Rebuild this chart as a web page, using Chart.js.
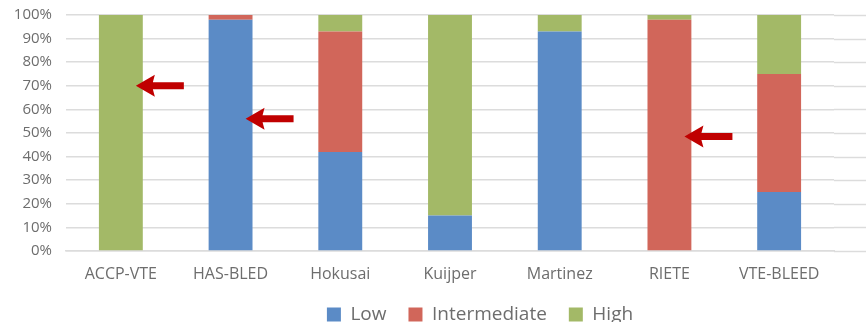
<!DOCTYPE html>
<html>
<head>
<meta charset="utf-8">
<script src="https://cdn.jsdelivr.net/npm/chart.js@4/dist/chart.umd.min.js"></script>
<style>
  html, body { margin: 0; padding: 0; background: #ffffff; }
  #wrap { width: 866px; height: 324px; }
</style>
</head>
<body>
<div id="wrap"><canvas id="risk" width="866" height="324"></canvas></div>
<script>
// Bleeding-risk scores and the share of patients classed in each risk band (%)
const scores = ['ACCP-VTE', 'HAS-BLED', 'Hokusai', 'Kuijper', 'Martinez', 'RIETE', 'VTE-BLEED'];
const lowRisk = [0, 98, 42, 15, 93, 0, 25];
const intermediateRisk = [0, 2, 51, 0, 0, 98, 50];
const highRisk = [100, 0, 7, 85, 7, 2, 25];
const seriesNames = ['Low', 'Intermediate', 'High'];
const yTicks = [0, 10, 20, 30, 40, 50, 60, 70, 80, 90, 100];

// Highlight arrows: score and the percentage level the arrow points at
const arrowScores = ['ACCP-VTE', 'HAS-BLED', 'RIETE'];
const arrowLevels = [70, 56, 48.5];

const GRID = '#dcdcdc';
const TEXT = '#6d6d6d';
const FONT = "'Open Sans', 'Noto Sans', sans-serif";

// Carry the horizontal gridlines on to the right edge of the canvas
const gridExtend = {
  id: 'gridExtend',
  beforeDatasetsDraw(chart) {
    const { ctx, chartArea, scales } = chart;
    ctx.save();
    ctx.strokeStyle = GRID;
    ctx.lineWidth = 1.5;
    yTicks.forEach(v => {
      const y = Math.round(scales.y.getPixelForValue(v)) + 0.5;
      ctx.beginPath();
      ctx.moveTo(chartArea.right, y);
      ctx.lineTo(chart.width, y);
      ctx.stroke();
    });
    ctx.restore();
  }
};

// Nudge the legend up and to the right so it sits under the middle of the plot
const legendNudge = {
  id: 'legendNudge',
  afterLayout(chart) {
    const lg = chart.legend;
    if (!lg) return;
    lg.top -= 2; lg.bottom -= 2;
    lg.left += 63; lg.right += 63;
  }
};

// Red pointer arrows laid on top of the bars
const pointerArrows = {
  id: 'pointerArrows',
  afterDatasetsDraw(chart) {
    const { ctx, scales } = chart;
    ctx.save();
    ctx.fillStyle = '#c00000';
    arrowScores.forEach((name, i) => {
      const tipX = scales.x.getPixelForValue(scores.indexOf(name)) + 15;
      const tipY = scales.y.getPixelForValue(arrowLevels[i]);
      const headLen = 19, headHalf = 11, shaftHalf = 3.5, total = 48;
      ctx.beginPath();
      ctx.moveTo(tipX, tipY);
      ctx.lineTo(tipX + headLen, tipY - headHalf);
      ctx.lineTo(tipX + headLen - 2, tipY - shaftHalf);
      ctx.lineTo(tipX + total, tipY - shaftHalf);
      ctx.lineTo(tipX + total, tipY + shaftHalf);
      ctx.lineTo(tipX + headLen - 2, tipY + shaftHalf);
      ctx.lineTo(tipX + headLen, tipY + headHalf);
      ctx.closePath();
      ctx.fill();
    });
    ctx.restore();
  }
};

const barStyle = { borderWidth: 0, barPercentage: 0.4, categoryPercentage: 1.0 };

new Chart(document.getElementById('risk'), {
  type: 'bar',
  data: {
    labels: scores,
    datasets: [
      Object.assign({ label: seriesNames[0], data: lowRisk, backgroundColor: '#5b8bc6' }, barStyle),
      Object.assign({ label: seriesNames[1], data: intermediateRisk, backgroundColor: '#d1665a' }, barStyle),
      Object.assign({ label: seriesNames[2], data: highRisk, backgroundColor: '#a3b967' }, barStyle)
    ]
  },
  options: {
    responsive: false,
    animation: false,
    layout: { padding: { left: 0, right: 32, top: 15, bottom: 0 } },
    plugins: {
      tooltip: { enabled: false },
      legend: {
        position: 'bottom',
        maxHeight: 39,
        labels: {
          boxWidth: 14,
          boxHeight: 14,
          padding: 22,
          color: TEXT,
          font: { family: FONT, size: 19 }
        }
      }
    },
    scales: {
      x: {
        stacked: true,
        afterFit(scale) { scale.height = 34; },
        grid: { display: false, drawTicks: false },
        border: { display: true, color: GRID, width: 1.5 },
        ticks: { padding: 14, color: TEXT, font: { family: FONT, size: 16 } }
      },
      y: {
        stacked: true,
        min: 0,
        max: 100,
        afterFit(scale) {
          scale.width = 66;
          scale.paddingTop = 0;
          scale.paddingBottom = 0;
        },
        afterBuildTicks(scale) { scale.ticks = yTicks.map(v => ({ value: v })); },
        grid: { color: GRID, lineWidth: 1.5, drawTicks: false },
        border: { display: false },
        ticks: {
          padding: 14,
          color: TEXT,
          font: { family: FONT, size: 15 },
          callback: v => v + '%'
        }
      }
    }
  },
  plugins: [gridExtend, legendNudge, pointerArrows]
});
</script>
</body>
</html>
